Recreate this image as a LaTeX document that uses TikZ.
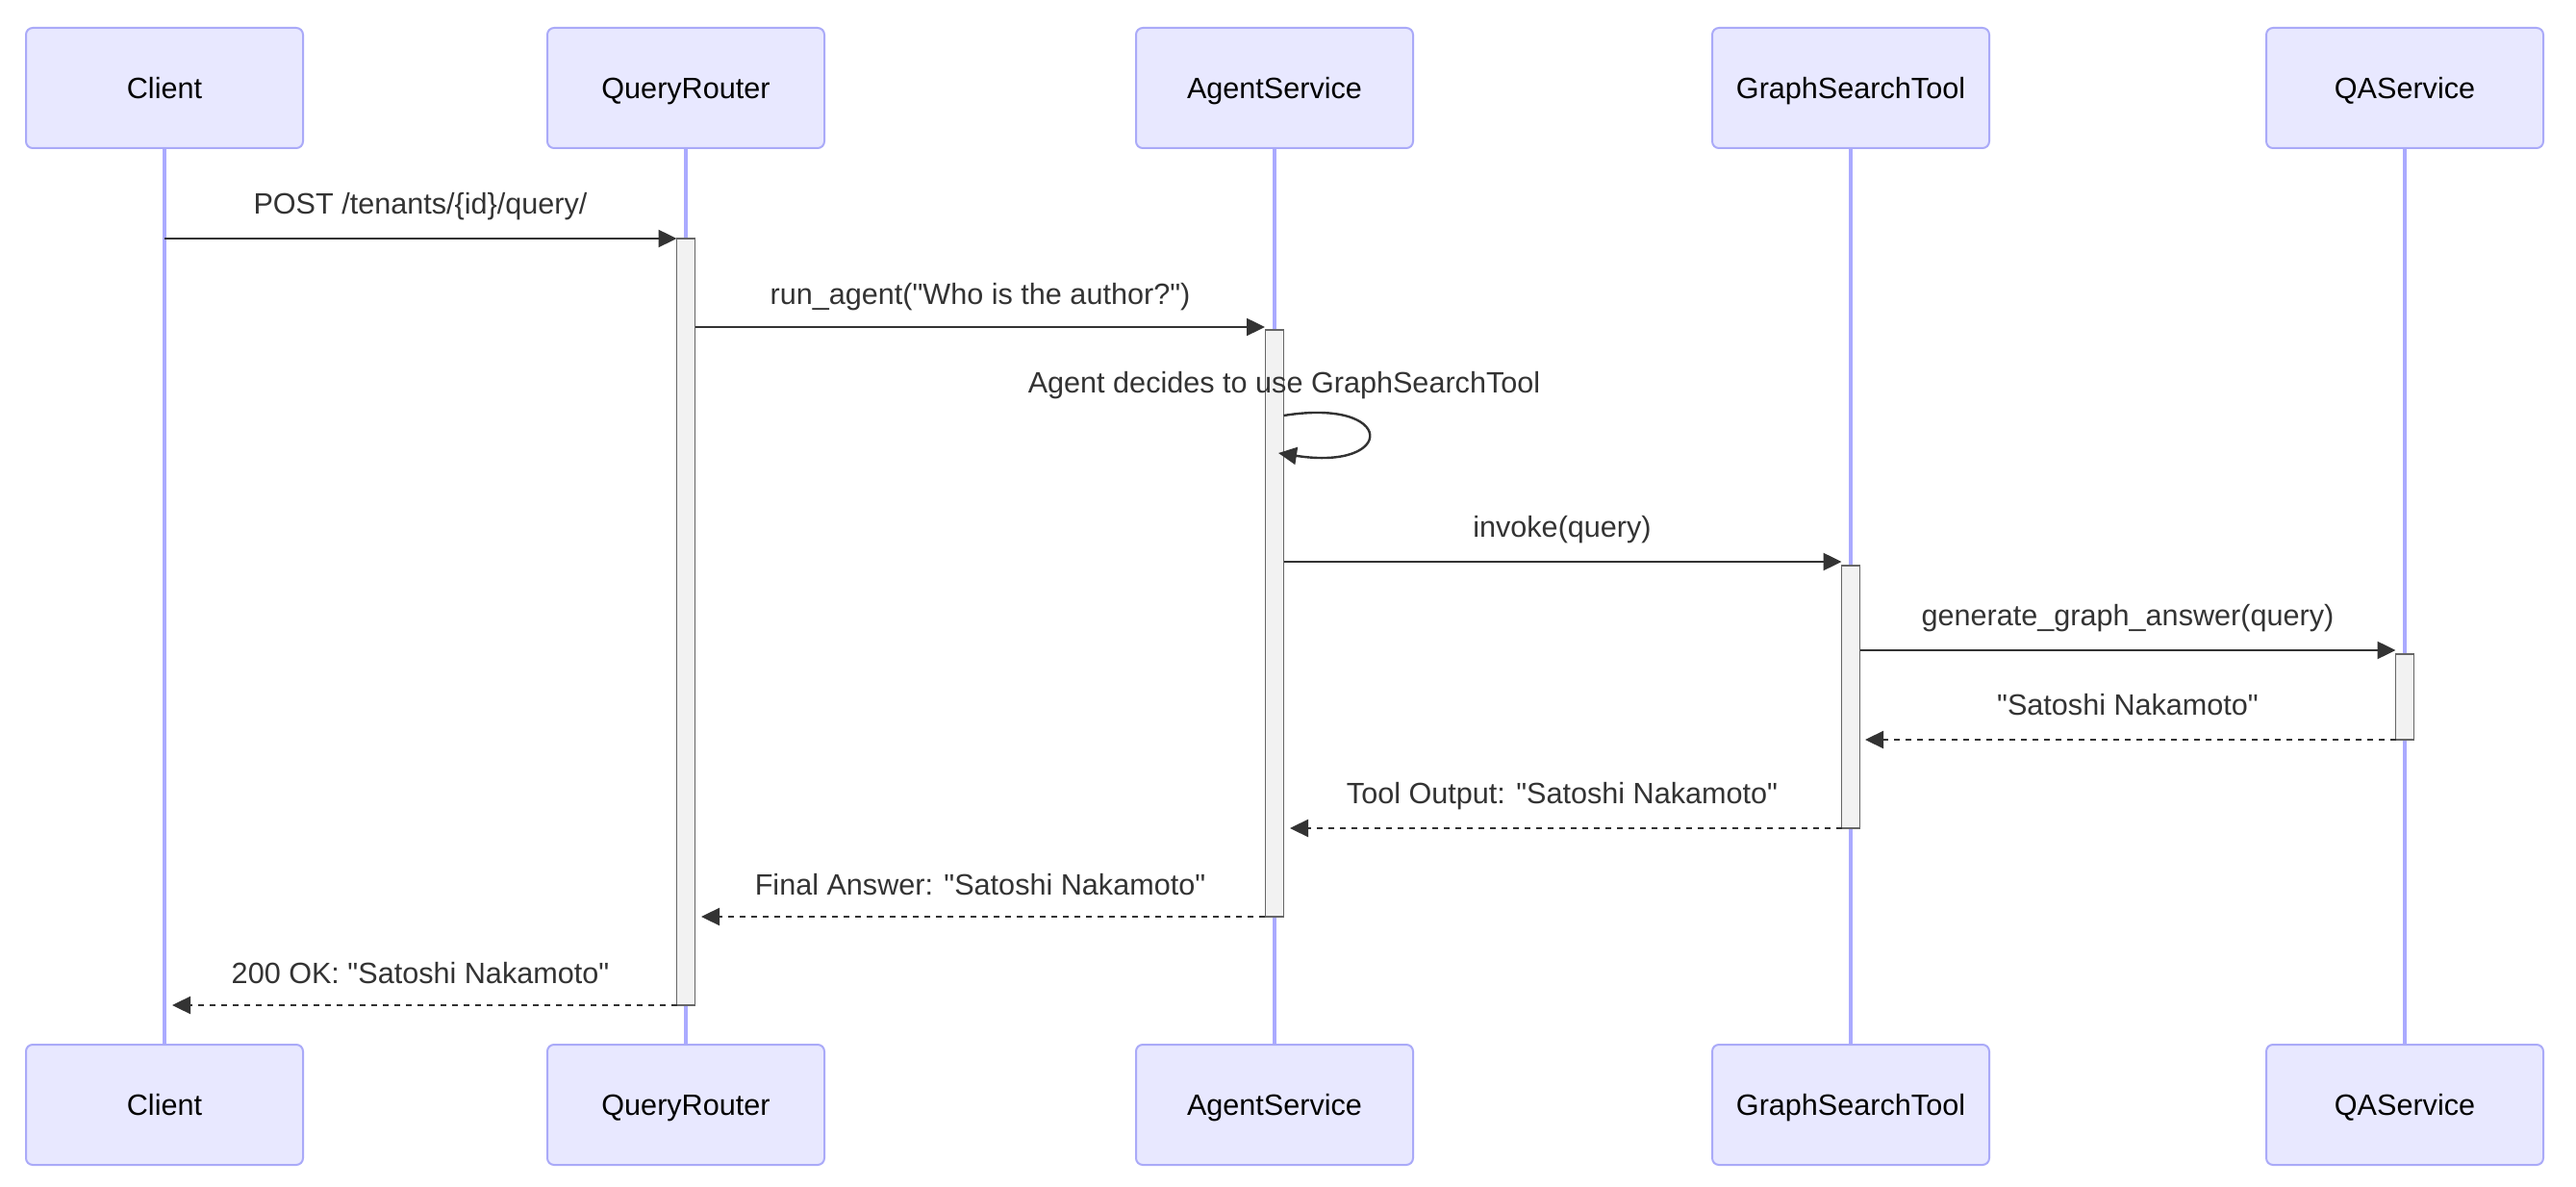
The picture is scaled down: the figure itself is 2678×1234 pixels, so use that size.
\documentclass[tikz,border=0pt]{standalone}
\usepackage{fontspec}
\setmainfont{Liberation Sans}[Ligatures=TeXOff]
\usetikzlibrary{arrows.meta}
\definecolor{actfill}{HTML}{E8E8FF}
\definecolor{actborder}{HTML}{AAAAF8}
\definecolor{lifec}{HTML}{AAAAFF}
\definecolor{msgc}{HTML}{333333}
\definecolor{avfill}{HTML}{F2F2F2}
\definecolor{avborder}{HTML}{666666}
\tikzset{
  actor/.style={draw=actborder, fill=actfill, line width=1pt, rounded corners=3.5pt,
    minimum width=144pt, minimum height=62.5pt, inner sep=0pt,
    text height=11pt, text depth=0pt,
    font=\fontsize{15.3}{18}\selectfont, text=black},
  lifeln/.style={draw=lifec, line width=1.6pt},
  activ/.style={draw=avborder, fill=avfill, line width=0.8pt, minimum width=9.5pt, inner sep=0pt},
  msg/.style={draw=msgc, line width=1.2pt, -{Triangle[length=9.5pt,width=9pt]}, color=msgc},
  reply/.style={msg, dash pattern=on 3pt off 3pt},
  lbl/.style={anchor=base, inner sep=0pt, text=msgc, font=\fontsize{15.3}{18}\selectfont},
}
\begin{document}
\begin{tikzpicture}[x=0.5pt, y=-0.5pt]
\useasboundingbox (0,0) rectangle (2678,1234);
% actors top
\node[actor] (cT) at (171,91.5) {Client};
\node[actor] (qT) at (713,91.5) {QueryRouter};
\node[actor] (aT) at (1325,91.5) {AgentService};
\node[actor] (gT) at (1924,91.5) {GraphSearchTool};
\node[actor] (sT) at (2500,91.5) {QAService};
% actors bottom
\node[actor] (cB) at (171,1148.5) {Client};
\node[actor] (qB) at (713,1148.5) {QueryRouter};
\node[actor] (aB) at (1325,1148.5) {AgentService};
\node[actor] (gB) at (1924,1148.5) {GraphSearchTool};
\node[actor] (sB) at (2500,1148.5) {QAService};
% lifelines
\draw[lifeln] (cT.south) -- (cB.north);
\draw[lifeln] (qT.south) -- (qB.north);
\draw[lifeln] (aT.south) -- (aB.north);
\draw[lifeln] (gT.south) -- (gB.north);
\draw[lifeln] (sT.south) -- (sB.north);
% activations
\node[activ, minimum height=398.5pt] (actQ) at (713,646.5) {};
\node[activ, minimum height=305pt] (actA) at (1325,648) {};
\node[activ, minimum height=136.5pt] (actG) at (1924,724.5) {};
\node[activ, minimum height=44.5pt] (actS) at (2500,724.5) {};
% message endpoints
\coordinate (m1s) at (171,248);   \coordinate (m1e) at (703.5,248);
\coordinate (m2s) at (722.5,340); \coordinate (m2e) at (1315,340);
\coordinate (m3s) at (1334.5,432); \coordinate (m3e) at (1329,471);
\coordinate (m4s) at (1334.5,584); \coordinate (m4e) at (1914.5,584);
\coordinate (m5s) at (1933.5,676); \coordinate (m5e) at (2490.5,676);
\coordinate (m6s) at (2490.5,769); \coordinate (m6e) at (1939,769);
\coordinate (m7s) at (1914.5,861); \coordinate (m7e) at (1341,861);
\coordinate (m8s) at (1315,953);  \coordinate (m8e) at (729,953);
\coordinate (m9s) at (703.5,1045); \coordinate (m9e) at (179,1045);
% messages
\draw[msg] (m1s) -- (m1e);
\draw[msg] (m2s) -- (m2e);
\draw[msg] (m3s) .. controls (1452,413) and (1452,490) .. (m3e);
\draw[msg] (m4s) -- (m4e);
\draw[msg] (m5s) -- (m5e);
\draw[reply] (m6s) -- (m6e);
\draw[reply] (m7s) -- (m7e);
\draw[reply] (m8s) -- (m8e);
\draw[reply] (m9s) -- (m9e);
% labels
\node[lbl] (l1) at (437,223) {POST /tenants/\{id\}/query/};
\node[lbl] (l2) at (1019,317) {run\_agent("Who is the author?")};
\node[lbl] (l3) at (1335,409) {Agent decides to use GraphSearchTool};
\node[lbl] (l4) at (1624,559) {invoke(query)};
\node[lbl] (l5) at (2212,651) {generate\_graph\_answer(query)};
\node[lbl] (l6) at (2212,744) {"Satoshi Nakamoto"};
\node[lbl] (l7) at (1624,836) {Tool Output: "Satoshi Nakamoto"};
\node[lbl] (l8) at (1019,930) {Final Answer: "Satoshi Nakamoto"};
\node[lbl] (l9) at (437,1022) {200 OK: "Satoshi Nakamoto"};
\end{tikzpicture}
\end{document}
